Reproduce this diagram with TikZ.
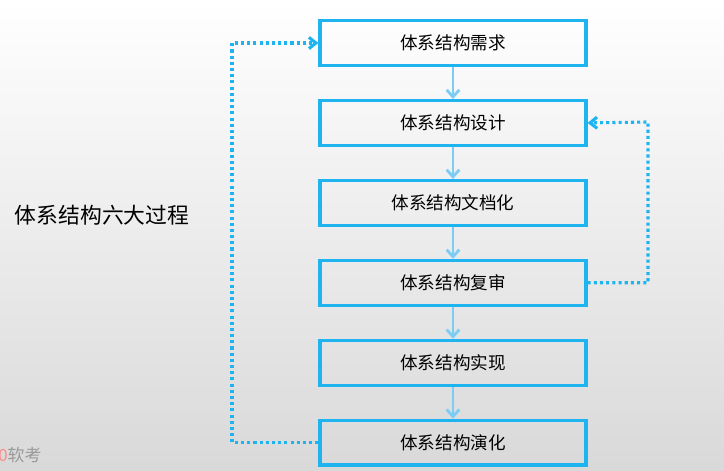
\documentclass[tikz,border=0pt]{standalone}
\usepackage{fontspec}
\setmainfont{Noto Sans CJK SC}
\usetikzlibrary{positioning,arrows.meta}
\definecolor{boxblue}{HTML}{1EB4F0}
\definecolor{arrowblue}{HTML}{7CCDF5}
\tikzset{
    phase/.style = {
        draw=boxblue,
        line width=2.2pt,
        minimum width=6.65cm,
        minimum height=1.12cm,
        font=\fontsize{12.5}{15}\selectfont,
        },
    flow/.style = {
        draw=arrowblue,
        line width=2pt,
        -{Straight Barb[length=5pt,width=9pt]},
        },
    back/.style = {
        draw=boxblue,
        line width=2.2pt,
        dash pattern=on 2.2pt off 2.2pt,
        -{Straight Barb[length=5pt,width=8pt]},
        },
}
\begin{document}
\begin{tikzpicture}[x=0.025cm,y=-0.025cm]
    \shade[top color=white,bottom color=black!15] (0,0) rectangle (724,471);
    \useasboundingbox (0,0) rectangle (724,471);
    \node[phase] (req) at (453,43) {体系结构需求};
    \node[phase, below=0.8cm of req] (des) {体系结构设计};
    \node[phase, below=0.8cm of des] (doc) {体系结构文档化};
    \node[phase, below=0.8cm of doc] (rev) {体系结构复审};
    \node[phase, below=0.8cm of rev] (imp) {体系结构实现};
    \node[phase, below=0.8cm of imp] (evo) {体系结构演化};
    \node[font=\fontsize{15.5}{18}\selectfont] (title) at (102,215) {体系结构六大过程};
    \node[anchor=west, inner sep=0pt, font=\fontsize{12}{14}\selectfont] (mark) at (-2,455) {\textcolor{red!45}{0}\textcolor{black!40}{软考}};

    \draw[flow] (req) -- (des);
    \draw[flow] (des) -- (doc);
    \draw[flow] (doc) -- (rev);
    \draw[flow] (rev) -- (imp);
    \draw[flow] (imp) -- (evo);
    \draw[back] (evo.west) -| (232,43) -- (req.west);
    \draw[back] (rev.east) -| (648,122) -- (des.east);
\end{tikzpicture}
\end{document}
